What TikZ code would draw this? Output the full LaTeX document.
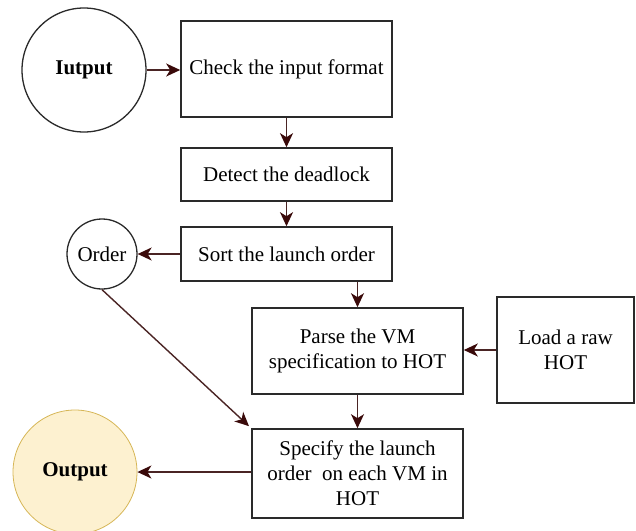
\documentclass[tikz,border=0pt]{standalone}
\usepackage{fontspec}
\setmainfont{Liberation Serif}
\usetikzlibrary{arrows.meta}
\definecolor{edgecol}{HTML}{4A2424}
\definecolor{tipcol}{HTML}{3A0A0A}
\definecolor{framecol}{HTML}{2A2A2A}
\definecolor{outfill}{HTML}{FDF1D0}
\definecolor{outline}{HTML}{D6B656}
\tikzset{
  stepbox/.style={draw=framecol, line width=1.6pt, rectangle, align=center,
    inner sep=0pt, font=\fontsize{21}{25}\selectfont},
  circnode/.style={draw=framecol, line width=1.3pt, circle, align=center,
    inner sep=0pt, font=\fontsize{21}{25}\selectfont},
  flow/.style={draw=edgecol, line width=1.4pt,
    -{Stealth[length=14pt,width=13pt,inset=4pt,color=tipcol]}}
}
\begin{document}
\begin{tikzpicture}[x=1pt,y=-1pt]
\useasboundingbox (0,0) rectangle (636,530);

% input and output terminals
\node[circnode, minimum size=124pt] (iutput) at (84,70) {\textbf{Iutput}};
\node[circnode, minimum size=70pt] (order) at (102,254) {Order};
\node[circnode, minimum size=124pt, draw=outline, line width=0.8pt, fill=outfill]
  (output) at (75,472) {\textbf{Output}};

% processing steps
\node[stepbox, minimum width=211pt, minimum height=96pt] (check) at (286.5,69)
  {Check the input format};
\node[stepbox, minimum width=211pt, minimum height=53pt] (detect) at (286.5,174.5)
  {Detect the deadlock};
\node[stepbox, minimum width=211pt, minimum height=54pt] (sort) at (286.5,254)
  {Sort the launch order};
\node[stepbox, minimum width=211pt, minimum height=86pt] (parse) at (357.5,351)
  {Parse the VM\\specification to HOT};
\node[stepbox, minimum width=137pt, minimum height=106pt] (load) at (565.5,350)
  {Load a raw\\HOT};
\node[stepbox, minimum width=211pt, minimum height=89pt] (specify) at (357.5,473.5)
  {Specify the launch\\order\ \ on each VM in\\HOT};

% connectors
\draw[flow] (iutput.east) -- (iutput.east -| check.west);
\draw[flow] (check.south) -- (detect.north);
\draw[flow] (detect.south) -- (sort.north);
\draw[flow] (sort.west) -- (order.east);
\draw[flow] (sort.south -| parse.north) -- (parse.north);
\draw[flow] (load.west) -- (load.west -| parse.east);
\draw[flow] (parse.south) -- (specify.north);
\draw[flow, shorten >=3pt] (order.south) -- (specify.north west);
\draw[flow] (specify.west |- output.east) -- (output.east);
\end{tikzpicture}
\end{document}
